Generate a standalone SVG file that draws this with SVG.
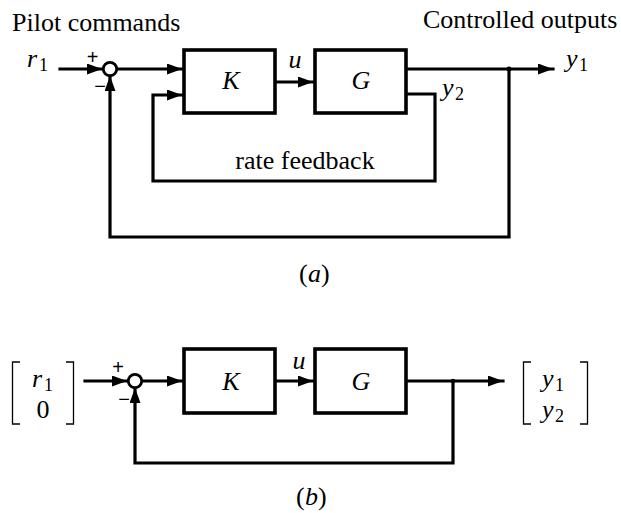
<svg xmlns="http://www.w3.org/2000/svg" width="621" height="513" viewBox="0 0 621 513">
<style>
.ln{fill:none;stroke:#000;stroke-width:3.2;stroke-linejoin:miter;stroke-linecap:square}
.bx{fill:#fff;stroke:#000;stroke-width:3.6}
.sum{fill:#fff;stroke:#000;stroke-width:2.8}
.t{font-family:"Liberation Serif","Times New Roman",serif;font-size:26px;fill:#000}
.m{font-family:"Liberation Serif","Times New Roman",serif;font-style:italic;font-size:26px;fill:#000}
.s{font-family:"Liberation Serif","Times New Roman",serif;font-size:18px;fill:#000}
.pm{font-family:"Liberation Sans","DejaVu Sans",sans-serif;font-size:20px;fill:#000}
.br{fill:none;stroke:#000;stroke-width:1.3}
</style>
<defs>
<marker id="ar" viewBox="0 0 15 11" refX="15" refY="5.5" markerWidth="15" markerHeight="11" markerUnits="userSpaceOnUse" orient="auto">
<path d="M0,0 L15,5.5 L0,11 Z" fill="#000"/>
</marker>
</defs>

<text class="t" x="12" y="31">Pilot commands</text>
<text class="t" x="423" y="28">Controlled outputs</text>

<g id="connectors-a">
<path class="ln" d="M60,69 L102,69" marker-end="url(#ar)"/>
<path class="ln" d="M116.5,69 L182,69" marker-end="url(#ar)"/>
<path class="ln" d="M275,82 L313,82" marker-end="url(#ar)"/>
<path class="ln" d="M406,69 L553,69" marker-end="url(#ar)"/>
<path class="ln" d="M406,94 L435,94 L435,181 L153,181 L153,95 L182,95" marker-end="url(#ar)"/>
<path class="ln" d="M509,69 L509,237 L110,237 L110,76" marker-end="url(#ar)"/>
<circle cx="509" cy="69" r="2.5" fill="#000"/>
</g>

<g id="sum-a"><circle class="sum" cx="110" cy="69" r="6.7"/></g>
<g id="K-a"><rect class="bx" x="184" y="50" width="91" height="63"/><text class="m" x="231" y="89" text-anchor="middle">K</text></g>
<g id="G-a"><rect class="bx" x="315" y="50" width="91" height="63"/><text class="m" x="361" y="89" text-anchor="middle">G</text></g>

<text class="m" x="27" y="67">r</text><text class="s" x="39" y="71">1</text>
<text class="pm" x="92.5" y="64" text-anchor="middle">+</text>
<text class="pm" x="100" y="93" text-anchor="middle">−</text>
<text class="m" x="295" y="68" text-anchor="middle">u</text>
<text class="m" x="566" y="67">y</text><text class="s" x="579" y="71">1</text>
<text class="m" x="442" y="96">y</text><text class="s" x="455" y="100">2</text>
<text class="t" x="305" y="169" text-anchor="middle">rate feedback</text>
<text class="t" x="299" y="282">(</text><text class="m" x="308" y="282">a</text><text class="t" x="321" y="282">)</text>

<g id="connectors-b">
<path class="ln" d="M85,381 L127,381" marker-end="url(#ar)"/>
<path class="ln" d="M141.5,381 L182,381" marker-end="url(#ar)"/>
<path class="ln" d="M275,381 L313,381" marker-end="url(#ar)"/>
<path class="ln" d="M406,381 L503,381" marker-end="url(#ar)"/>
<path class="ln" d="M453,381 L453,463 L135,463 L135,388" marker-end="url(#ar)"/>
<circle cx="453" cy="381" r="2.3" fill="#000"/>
</g>

<g id="sum-b"><circle class="sum" cx="135" cy="381" r="6.7"/></g>
<g id="K-b"><rect class="bx" x="184" y="349" width="91" height="64"/><text class="m" x="231" y="390" text-anchor="middle">K</text></g>
<g id="G-b"><rect class="bx" x="315" y="349" width="91" height="64"/><text class="m" x="361" y="390" text-anchor="middle">G</text></g>

<g id="input-b">
<path class="br" d="M20,362 L12.5,362 L12.5,424 L20,424"/>
<path class="br" d="M66,362 L73.5,362 L73.5,424 L66,424"/>
<text class="m" x="32" y="387">r</text><text class="s" x="44" y="391">1</text>
<text class="t" x="43" y="418" text-anchor="middle">0</text>
</g>
<text class="pm" x="118" y="374" text-anchor="middle">+</text>
<text class="pm" x="124" y="406" text-anchor="middle">−</text>
<text class="m" x="299" y="369" text-anchor="middle">u</text>

<g id="output-b">
<path class="br" d="M531,362 L523.5,362 L523.5,424 L531,424"/>
<path class="br" d="M580,362 L587.5,362 L587.5,424 L580,424"/>
<text class="m" x="542" y="387">y</text><text class="s" x="555" y="391">1</text>
<text class="m" x="542" y="418">y</text><text class="s" x="555" y="422">2</text>
</g>
<text class="t" x="296" y="505">(</text><text class="m" x="305" y="505">b</text><text class="t" x="318" y="505">)</text>
</svg>
